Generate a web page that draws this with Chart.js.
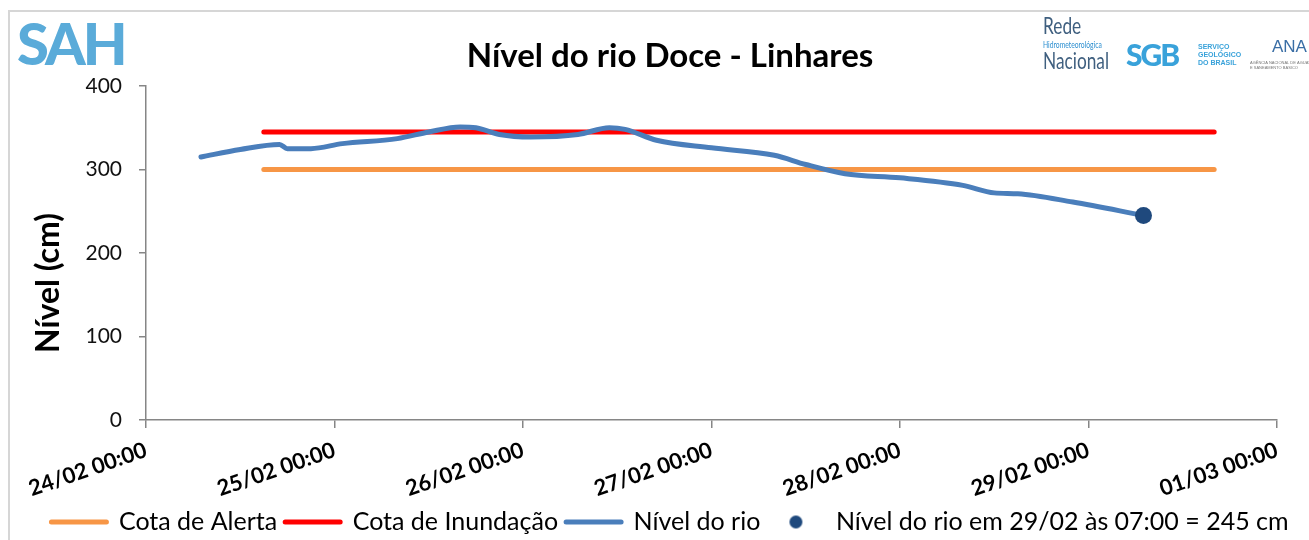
<!DOCTYPE html>
<html>
<head>
<meta charset="utf-8">
<script src="https://cdn.jsdelivr.net/npm/chart.js@4"></script>
<style>
  body { margin: 0; background: #fff; font-family: Lato, sans-serif; }
  #frame { position: absolute; left: 8px; top: 10px; width: 1400px; height: 600px; border: 2px solid #d6d6d6; }
  #c { position: absolute; left: 0; top: 0; }
  .logo { position: absolute; white-space: nowrap; transform-origin: left top; }
</style>
</head>
<body>
<div id="frame"></div>
<canvas id="c" width="1309" height="540"></canvas>

<!-- logos, as text -->
<div class="logo" style="left:17px;top:8px;font:900 58px Lato;color:#5aabd9;letter-spacing:-3px">SAH</div>
<div class="logo" style="left:1043px;top:14px;font:24px Lato;color:#3f5f7f;line-height:22px;transform:scaleX(0.72)">Rede</div>
<div class="logo" style="left:1043px;top:39px;font:9px Lato;color:#2d8fd0;transform:scaleX(0.75)">Hidrometeorológica</div>
<div class="logo" style="left:1043px;top:49px;font:24px Lato;color:#3f5f7f;line-height:22px;transform:scaleX(0.72)">Nacional</div>
<div class="logo" style="left:1126px;top:36px;font:900 30px Lato;color:#39a2da;letter-spacing:-2px">SGB</div>
<div class="logo" style="left:1198px;top:43px;font:bold 7px 'Liberation Sans';color:#39a2da;line-height:8px">SERVIÇO<br>GEOLÓGICO<br>DO BRASIL</div>
<div class="logo" style="left:1272px;top:37px;font:17px 'Liberation Sans';color:#3a6ea5">ANA</div>
<div class="logo" style="left:1250px;top:60px;font:4px 'Liberation Sans';color:#777;line-height:5px">AGÊNCIA NACIONAL DE ÁGUAS<br>E SANEAMENTO BÁSICO</div>

<script>
// --- dados ---
const tickLabels = ['24/02 00:00', '25/02 00:00', '26/02 00:00', '27/02 00:00', '28/02 00:00', '29/02 00:00', '01/03 00:00'];

const riverTimes = ['24/02 07:00', '24/02 12:00', '24/02 17:00', '24/02 18:00', '24/02 21:00',
  '25/02 01:00', '25/02 08:00', '25/02 12:00', '25/02 16:00', '25/02 18:00', '25/02 21:00',
  '26/02 01:00', '26/02 07:00', '26/02 11:00', '26/02 13:00', '26/02 17:00',
  '27/02 00:00', '27/02 08:00', '27/02 12:00', '27/02 17:00',
  '28/02 00:00', '28/02 08:00', '28/02 12:00', '28/02 15:00', '28/02 22:00', '29/02 07:00'];
const riverLevels = [315, 324, 330, 325, 325,
  331, 337, 345, 351, 350, 342,
  339, 342, 350, 348, 335,
  326, 317, 306, 295,
  290, 281, 272, 271, 261, 245];

const alertTimes = ['24/02 15:00', '29/02 16:00'];
const alertLevels = [300, 300];
const floodTimes = ['24/02 15:00', '29/02 16:00'];
const floodLevels = [345, 345];
const lastTimes = ['29/02 07:00'];
const lastLevels = [245];

// horas desde 24/02 00:00
function toHours(s) {
  const [d, m] = s.slice(0, 5).split('/').map(Number);
  const [h, mi] = s.slice(6).split(':').map(Number);
  return (Date.UTC(2024, m - 1, d, h, mi) - Date.UTC(2024, 1, 24)) / 3600000;
}
function pts(times, vals) { return times.map((t, i) => ({ x: toHours(t), y: vals[i] })); }

// bolinha da legenda
const dot = document.createElement('canvas');
dot.width = 15; dot.height = 15;
const dctx = dot.getContext('2d');
dctx.fillStyle = '#1f497d';
dctx.beginPath(); dctx.arc(7.5, 7.5, 6.5, 0, Math.PI * 2); dctx.fill();

const yTitle = {
  id: 'yTitle',
  afterDraw(chart) {
    const ctx = chart.ctx, a = chart.chartArea;
    ctx.save();
    ctx.translate(49, (a.top + a.bottom) / 2 + 30);
    ctx.rotate(-Math.PI / 2);
    ctx.font = 'bold 32px Lato';
    ctx.fillStyle = '#000';
    ctx.textAlign = 'center';
    ctx.textBaseline = 'middle';
    ctx.fillText('Nível (cm)', 0, 0);
    ctx.restore();
  }
};

const axisGray = '#868686';

new Chart(document.getElementById('c'), {
  type: 'line',
  data: {
    datasets: [
      { label: 'Cota de Alerta', data: pts(alertTimes, alertLevels), borderColor: '#f79646', backgroundColor: '#f79646',
        borderWidth: 5, pointRadius: 0, borderCapStyle: 'round', order: 3, legendStyle: 'line' },
      { label: 'Cota de Inundação', data: pts(floodTimes, floodLevels), borderColor: '#ff0000', backgroundColor: '#ff0000',
        borderWidth: 5, pointRadius: 0, borderCapStyle: 'round', order: 2, legendStyle: 'line' },
      { label: 'Nível do rio', data: pts(riverTimes, riverLevels), borderColor: '#4a7ebb', backgroundColor: '#4a7ebb',
        borderWidth: 5, pointRadius: 0, borderCapStyle: 'round', borderJoinStyle: 'round',
        cubicInterpolationMode: 'monotone', order: 1, legendStyle: 'line' },
      { label: 'Nível do rio em 29/02 às 07:00 = 245 cm', data: pts(lastTimes, lastLevels), showLine: false,
        pointRadius: 8.5, pointBackgroundColor: '#1f497d', pointBorderWidth: 0, borderColor: '#1f497d',
        backgroundColor: '#1f497d', order: 0, legendStyle: dot }
    ]
  },
  options: {
    responsive: false,
    animation: false,
    layout: { padding: { left: 39, right: 8, top: 0, bottom: -4.5 } },
    scales: {
      x: {
        type: 'linear', min: 0, max: 144,
        afterFit: (s) => { s.height = 81.5; },
        ticks: {
          stepSize: 24, autoSkip: false, minRotation: 19, maxRotation: 19, padding: 9,
          color: '#000', font: { family: 'Lato', size: 22, weight: 'bold' },
          callback: (v) => tickLabels[v / 24]
        },
        grid: { drawOnChartArea: false, tickLength: 8, color: axisGray, lineWidth: 1.5 },
        border: { color: axisGray, width: 1.5 }
      },
      y: {
        min: 0, max: 400,
        afterFit: (s) => { s.width = 107; },
        ticks: { stepSize: 100, padding: 17, color: '#111', font: { family: 'Lato', size: 21 } },
        grid: { drawOnChartArea: false, tickLength: 7, color: axisGray, lineWidth: 1.5 },
        border: { color: axisGray, width: 1.5 }
      },
      // espaço à direita, sem desenho
      y2: {
        position: 'right', min: 0, max: 400,
        afterFit: (s) => { s.width = 24; },
        ticks: { display: false },
        grid: { display: false },
        border: { display: false }
      }
    },
    plugins: {
      title: {
        display: true, text: 'Nível do rio Doce - Linhares', color: '#000',
        font: { family: 'Lato', size: 33, weight: 'bold' },
        padding: { top: 37, bottom: 9.4 }
      },
      legend: {
        position: 'bottom',
        labels: {
          usePointStyle: true, pointStyleWidth: 55, boxHeight: 10, padding: 8,
          color: '#000', font: { family: 'Lato', size: 25 },
          generateLabels: (chart) => chart.data.datasets.map((ds, i) => ({
            text: ds.label, datasetIndex: i, hidden: false,
            pointStyle: ds.legendStyle, strokeStyle: ds.borderColor, fillStyle: ds.backgroundColor,
            lineWidth: 5, lineCap: 'round', fontColor: '#000'
          }))
        }
      },
      tooltip: { enabled: false }
    }
  },
  plugins: [yTitle]
});
</script>
</body>
</html>
